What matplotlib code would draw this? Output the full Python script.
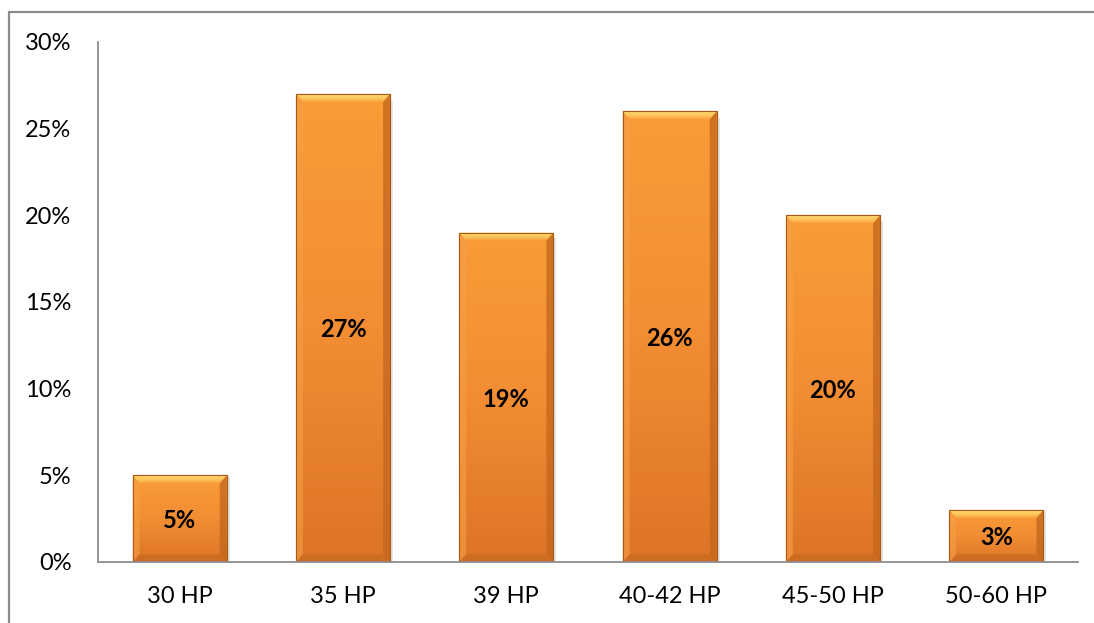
import numpy as np
import matplotlib.pyplot as plt
from matplotlib.patches import Rectangle, Polygon
from matplotlib.colors import LinearSegmentedColormap
from matplotlib.ticker import FuncFormatter

# Répartition par puissance moteur
categories = ["30 HP", "35 HP", "39 HP", "40-42 HP", "45-50 HP", "50-60 HP"]
shares = [5, 27, 19, 26, 20, 3]

plt.rcParams['font.family'] = ['Lato', 'DejaVu Sans']

fig = plt.figure(figsize=(10.94, 6.23), dpi=100)
ax = fig.add_axes([98 / 1094, 1 - 562 / 623, 980 / 1094, 520 / 623])

# cadre gris autour du graphique
fig.patches.append(Rectangle((9 / 1094, -0.05), 1.2, 1 - 12 / 623 + 0.05,
                             transform=fig.transFigure, fill=False,
                             edgecolor='#8c8c8c', linewidth=1.6, zorder=0))

x = np.arange(len(categories))
bars = ax.bar(x, shares, width=0.575, color='#F28F30', edgecolor='#A85A18',
              linewidth=0.8, zorder=2)

ax.set_xlim(-0.5, len(categories) - 0.5)
ax.set_ylim(0, 30)

# dégradé vertical orange, plus clair en haut
cmap = LinearSegmentedColormap.from_list('orange', ['#DD7426', '#F28D33', '#FA9C38'])
grad = np.linspace(0, 1, 256).reshape(-1, 1)
top_cmap = LinearSegmentedColormap.from_list('bevel', ['#FAA444', '#FCC85C', '#FEDC74'])

bw = 0.042   # largeur du biseau (unités x)
bh = 0.45    # hauteur du biseau (unités y)
for b in bars:
    x0, w, h = b.get_x(), b.get_width(), b.get_height()
    x1 = x0 + w
    # ombre portée légère à droite
    ax.add_patch(Rectangle((x1, 0), 0.018, h * 0.985, color='#000000',
                           alpha=0.10, linewidth=0, zorder=1))
    im = ax.imshow(grad, extent=(x0, x1, 0, h), origin='lower', cmap=cmap,
                   aspect='auto', zorder=2.1)
    im.set_clip_path(b)
    # côtés et bas plus sombres
    ax.add_patch(Polygon([(x0, h), (x0 + bw, h - bh), (x0 + bw, bh), (x0, 0)],
                         closed=True, facecolor='#F6A048', edgecolor='none',
                         alpha=0.6, zorder=2.2))
    ax.add_patch(Polygon([(x1, h), (x1 - bw, h - bh), (x1 - bw, bh), (x1, 0)],
                         closed=True, facecolor='#C2661C', edgecolor='none',
                         alpha=0.75, zorder=2.2))
    ax.add_patch(Polygon([(x0, 0), (x0 + bw, bh), (x1 - bw, bh), (x1, 0)],
                         closed=True, facecolor='#C86A20', edgecolor='none',
                         alpha=0.7, zorder=2.2))
    # biseau du haut en dégradé jaune
    top = Polygon([(x0, h), (x1, h), (x1 - bw, h - bh), (x0 + bw, h - bh)],
                  closed=True, facecolor='none', edgecolor='none', zorder=2.25)
    ax.add_patch(top)
    im_top = ax.imshow(grad, extent=(x0, x1, h - bh, h), origin='lower',
                       cmap=top_cmap, aspect='auto', zorder=2.25)
    im_top.set_clip_path(top)
    ax.add_patch(Rectangle((x0, 0), w, h, fill=False, edgecolor='#A85A18',
                           linewidth=0.8, zorder=2.3))
    ax.text(x0 + w / 2, h / 2 - 0.1, f"{h:.0f}%", ha='center', va='center',
            fontsize=17, fontweight='bold', color='black', zorder=3)

ax.set_xticks(x)
ax.set_xticklabels(categories, fontsize=17)
ax.set_yticks(np.arange(0, 31, 5))
ax.yaxis.set_major_formatter(FuncFormatter(lambda v, _: f"{v:.0f}%"))
ax.tick_params(axis='y', labelsize=17, length=0, pad=19)
ax.tick_params(axis='x', length=0, pad=17)

for side in ['top', 'right']:
    ax.spines[side].set_visible(False)
for side in ['left', 'bottom']:
    ax.spines[side].set_color('#8c8c8c')
    ax.spines[side].set_linewidth(1.3)

fig.savefig('out.png', dpi=100)
